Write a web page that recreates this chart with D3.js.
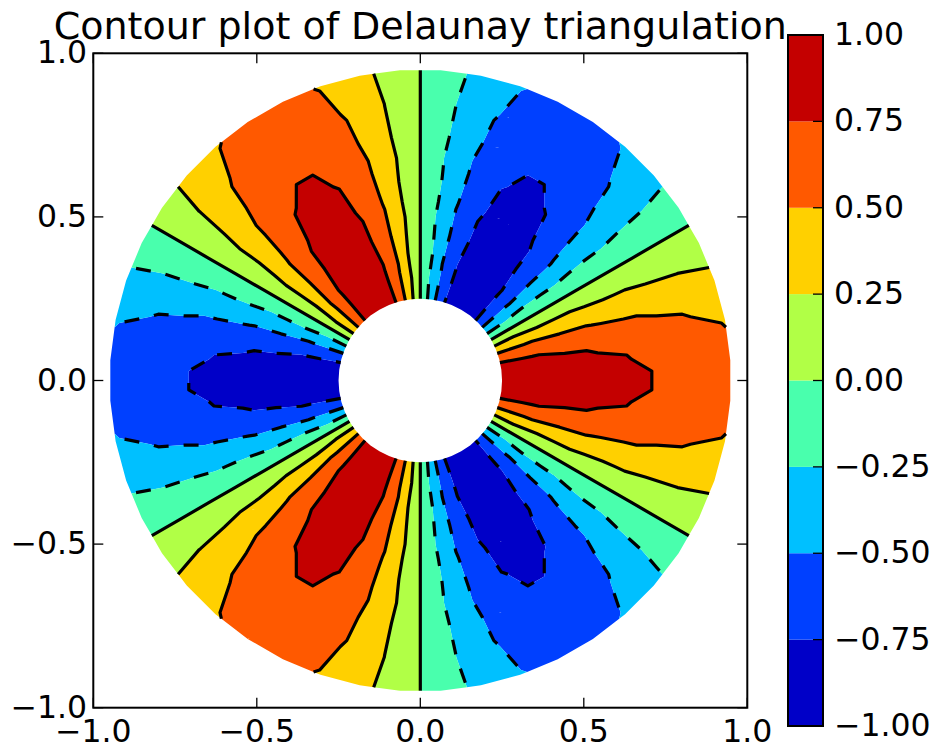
<!DOCTYPE html>
<html>
<head>
<meta charset="utf-8">
<script src="https://cdnjs.cloudflare.com/ajax/libs/d3/7.8.5/d3.min.js"></script>
<style>
  body { margin: 0; background: #fff; }
  text { font-family: "DejaVu Sans", sans-serif; fill: #000; }
</style>
</head>
<body>
<div id="graph"></div>
<script>

// rings of the triangulation grid (radius, angular offset of the ring in degrees)
var radii = [0.25, 0.35, 0.45, 0.55, 0.65, 0.75, 0.85, 0.95];
var ringOffset = [0, 3.75, 0, 3.75, 0, 3.75, 0, 3.75];

// 48 angles per ring, degrees
var anglesDeg = [0, 7.5, 15, 22.5, 30, 37.5, 45, 52.5, 60, 67.5, 75, 82.5,
                 90, 97.5, 105, 112.5, 120, 127.5, 135, 142.5, 150, 157.5, 165, 172.5,
                 180, 187.5, 195, 202.5, 210, 217.5, 225, 232.5, 240, 247.5, 255, 262.5,
                 270, 277.5, 285, 292.5, 300, 307.5, 315, 322.5, 330, 337.5, 345, 352.5];

// z value at every grid point, one row per ring, one column per angle
var zRows = [
  [0.969,0.895,0.685,0.371,0,-0.371,-0.685,-0.895,-0.969,-0.895,-0.685,-0.371,0,0.371,0.685,0.895,
   0.969,0.895,0.685,0.371,0,-0.371,-0.685,-0.895,-0.969,-0.895,-0.685,-0.371,0,0.371,0.685,0.895,
   0.969,0.895,0.685,0.371,0,-0.371,-0.685,-0.895,-0.969,-0.895,-0.685,-0.371,0,0.371,0.685,0.895],
  [0.921,0.781,0.522,0.183,-0.183,-0.522,-0.781,-0.921,-0.921,-0.781,-0.522,-0.183,0.183,0.522,0.781,0.921,
   0.921,0.781,0.522,0.183,-0.183,-0.522,-0.781,-0.921,-0.921,-0.781,-0.522,-0.183,0.183,0.522,0.781,0.921,
   0.921,0.781,0.522,0.183,-0.183,-0.522,-0.781,-0.921,-0.921,-0.781,-0.522,-0.183,0.183,0.522,0.781,0.921],
  [0.900,0.832,0.637,0.345,0,-0.345,-0.637,-0.832,-0.900,-0.832,-0.637,-0.345,0,0.345,0.637,0.832,
   0.900,0.832,0.637,0.345,0,-0.345,-0.637,-0.832,-0.900,-0.832,-0.637,-0.345,0,0.345,0.637,0.832,
   0.900,0.832,0.637,0.345,0,-0.345,-0.637,-0.832,-0.900,-0.832,-0.637,-0.345,0,0.345,0.637,0.832],
  [0.836,0.709,0.474,0.166,-0.166,-0.474,-0.709,-0.836,-0.836,-0.709,-0.474,-0.166,0.166,0.474,0.709,0.836,
   0.836,0.709,0.474,0.166,-0.166,-0.474,-0.709,-0.836,-0.836,-0.709,-0.474,-0.166,0.166,0.474,0.709,0.836,
   0.836,0.709,0.474,0.166,-0.166,-0.474,-0.709,-0.836,-0.836,-0.709,-0.474,-0.166,0.166,0.474,0.709,0.836],
  [0.796,0.736,0.563,0.305,0,-0.305,-0.563,-0.736,-0.796,-0.736,-0.563,-0.305,0,0.305,0.563,0.736,
   0.796,0.736,0.563,0.305,0,-0.305,-0.563,-0.736,-0.796,-0.736,-0.563,-0.305,0,0.305,0.563,0.736,
   0.796,0.736,0.563,0.305,0,-0.305,-0.563,-0.736,-0.796,-0.736,-0.563,-0.305,0,0.305,0.563,0.736],
  [0.718,0.608,0.407,0.143,-0.143,-0.407,-0.608,-0.718,-0.718,-0.608,-0.407,-0.143,0.143,0.407,0.608,0.718,
   0.718,0.608,0.407,0.143,-0.143,-0.407,-0.608,-0.718,-0.718,-0.608,-0.407,-0.143,0.143,0.407,0.608,0.718,
   0.718,0.608,0.407,0.143,-0.143,-0.407,-0.608,-0.718,-0.718,-0.608,-0.407,-0.143,0.143,0.407,0.608,0.718],
  [0.660,0.610,0.467,0.253,0,-0.253,-0.467,-0.610,-0.660,-0.610,-0.467,-0.253,0,0.253,0.467,0.610,
   0.660,0.610,0.467,0.253,0,-0.253,-0.467,-0.610,-0.660,-0.610,-0.467,-0.253,0,0.253,0.467,0.610,
   0.660,0.610,0.467,0.253,0,-0.253,-0.467,-0.610,-0.660,-0.610,-0.467,-0.253,0,0.253,0.467,0.610],
  [0.571,0.484,0.323,0.113,-0.113,-0.323,-0.484,-0.571,-0.571,-0.484,-0.323,-0.113,0.113,0.323,0.484,0.571,
   0.571,0.484,0.323,0.113,-0.113,-0.323,-0.484,-0.571,-0.571,-0.484,-0.323,-0.113,0.113,0.323,0.484,0.571,
   0.571,0.484,0.323,0.113,-0.113,-0.323,-0.484,-0.571,-0.571,-0.484,-0.323,-0.113,0.113,0.323,0.484,0.571]
];

var minRadius = 0.25;

// contour levels and band colours (jet)
var levels = [-1, -0.75, -0.5, -0.25, 0, 0.25, 0.5, 0.75, 1];
var bandColors = ["#0000c8", "#0040ff", "#00c0ff", "#49ffad", "#b1ff46", "#ffd000", "#ff5900", "#c40000"];
var lineLevels = [-0.75, -0.5, -0.25, 0, 0.25, 0.5, 0.75];

var axisTicks = [-1, -0.5, 0, 0.5, 1];
var axisTickLabels = ["\u22121.0", "\u22120.5", "0.0", "0.5", "1.0"];
var cbTickLabels = ["\u22121.00", "\u22120.75", "\u22120.50", "\u22120.25", "0.00", "0.25", "0.50", "0.75", "1.00"];

var titleText = "Contour plot of Delaunay triangulation";

// layout
var W = 937, H = 753;
var ax = { left: 93.3, right: 747.3, top: 53.3, bottom: 707.7 };
var cb = { left: 788, right: 823, top: 35, bottom: 726 };
var fs = 31.5;

var x = d3.scaleLinear().domain([-1, 1]).range([ax.left, ax.right]);
var y = d3.scaleLinear().domain([-1, 1]).range([ax.bottom, ax.top]);
var yc = d3.scaleLinear().domain([-1, 1]).range([cb.bottom, cb.top]);

var svg = d3.select("#graph").append("svg")
    .attr("width", W).attr("height", H);

// build the points
var pts = [];
radii.forEach(function (r, i) {
    anglesDeg.forEach(function (a, j) {
        var t = (a + ringOffset[i]) * Math.PI / 180;
        pts.push({ x: r * Math.cos(t), y: r * Math.sin(t), z: zRows[i][j] });
    });
});

var delaunay = d3.Delaunay.from(pts, function (d) { return d.x; }, function (d) { return d.y; });
var tris = [];
for (var k = 0; k < delaunay.triangles.length; k += 3) {
    var a = delaunay.triangles[k], b = delaunay.triangles[k + 1], c = delaunay.triangles[k + 2];
    var cx = (pts[a].x + pts[b].x + pts[c].x) / 3, cy = (pts[a].y + pts[b].y + pts[c].y) / 3;
    if (Math.hypot(cx, cy) < minRadius) continue;   // mask the hole
    tris.push([a, b, c]);
}

// clip a polygon (with z at vertices) to z >= lev (above) or z <= lev
function clip(poly, lev, above) {
    var out = [];
    for (var i = 0; i < poly.length; i++) {
        var p = poly[i], q = poly[(i + 1) % poly.length];
        var pin = above ? p.z >= lev : p.z <= lev;
        var qin = above ? q.z >= lev : q.z <= lev;
        if (pin) out.push(p);
        if (pin !== qin) {
            var t = (lev - p.z) / (q.z - p.z);
            out.push({ x: p.x + t * (q.x - p.x), y: p.y + t * (q.y - p.y), z: lev });
        }
    }
    return out;
}

// filled bands
var fills = svg.append("g");
bandColors.forEach(function (col, bi) {
    var lo = levels[bi], hi = levels[bi + 1];
    var d = "";
    tris.forEach(function (tr) {
        var poly = tr.map(function (i) { return pts[i]; });
        poly = clip(poly, lo, true);
        if (poly.length < 3) return;
        poly = clip(poly, hi, false);
        if (poly.length < 3) return;
        d += "M" + poly.map(function (p) { return x(p.x) + "," + y(p.y); }).join("L") + "Z";
    });
    fills.append("path").attr("d", d).attr("fill", col).attr("stroke", "none");
});

// contour lines
var line = d3.line().x(function (p) { return x(p.x); }).y(function (p) { return y(p.y); });
var lines = svg.append("g");

lineLevels.forEach(function (lev) {
    var segs = [], seen = {}, ptOf = {};
    tris.forEach(function (tr) {
        var found = [];
        [[tr[0], tr[1]], [tr[1], tr[2]], [tr[2], tr[0]]].forEach(function (e) {
            var u = Math.min(e[0], e[1]), v = Math.max(e[0], e[1]);
            var au = pts[u].z > lev, av = pts[v].z > lev;
            if (au === av) return;
            var t = (lev - pts[u].z) / (pts[v].z - pts[u].z);
            var p = { x: pts[u].x + t * (pts[v].x - pts[u].x), y: pts[u].y + t * (pts[v].y - pts[u].y) };
            var key = p.x.toFixed(7) + "," + p.y.toFixed(7);
            ptOf[key] = p;
            found.push(key);
        });
        if (found.length !== 2 || found[0] === found[1]) return;
        var sk = found[0] < found[1] ? found[0] + "|" + found[1] : found[1] + "|" + found[0];
        if (seen[sk]) return;
        seen[sk] = true;
        segs.push({ k0: found[0], k1: found[1] });
    });

    var adj = new Map();
    segs.forEach(function (s, i) {
        [s.k0, s.k1].forEach(function (k) {
            if (!adj.has(k)) adj.set(k, []);
            adj.get(k).push(i);
        });
    });
    var used = segs.map(function () { return false; });
    function walk(start) {
        var chain = [ptOf[start]], key = start;
        while (true) {
            var next = adj.get(key).find(function (i) { return !used[i]; });
            if (next === undefined) break;
            used[next] = true;
            key = segs[next].k0 === key ? segs[next].k1 : segs[next].k0;
            chain.push(ptOf[key]);
        }
        return chain;
    }
    var chains = [];
    adj.forEach(function (list, key) {
        if (list.length % 2 === 1) {
            while (list.some(function (i) { return !used[i]; })) chains.push(walk(key));
        }
    });
    segs.forEach(function (s, i) { if (!used[i]) chains.push(walk(s.k0)); });

    chains.forEach(function (c) {
        lines.append("path")
            .attr("d", line(c))
            .attr("fill", "none")
            .attr("stroke", "#000")
            .attr("stroke-width", 3.2)
            .attr("stroke-linejoin", "round")
            .attr("stroke-dasharray", lev < 0 ? "15,15" : null);
    });
});

// axes frame and ticks
var frame = svg.append("g");
frame.append("rect")
    .attr("x", ax.left).attr("y", ax.top)
    .attr("width", ax.right - ax.left).attr("height", ax.bottom - ax.top)
    .attr("fill", "none").attr("stroke", "#000").attr("stroke-width", 2);

var tl = 10;
axisTicks.forEach(function (v, i) {
    frame.append("line").attr("x1", x(v)).attr("x2", x(v)).attr("y1", ax.bottom).attr("y2", ax.bottom - tl)
        .attr("stroke", "#000").attr("stroke-width", 1.3);
    frame.append("line").attr("x1", x(v)).attr("x2", x(v)).attr("y1", ax.top).attr("y2", ax.top + tl)
        .attr("stroke", "#000").attr("stroke-width", 1.3);
    frame.append("line").attr("y1", y(v)).attr("y2", y(v)).attr("x1", ax.left).attr("x2", ax.left + tl)
        .attr("stroke", "#000").attr("stroke-width", 1.3);
    frame.append("line").attr("y1", y(v)).attr("y2", y(v)).attr("x1", ax.right).attr("x2", ax.right - tl)
        .attr("stroke", "#000").attr("stroke-width", 1.3);

    frame.append("text").attr("x", x(v)).attr("y", 742)
        .attr("text-anchor", "middle").attr("font-size", fs).text(axisTickLabels[i]);
    frame.append("text").attr("x", 87).attr("y", y(v) + 10)
        .attr("text-anchor", "end").attr("font-size", fs).text(axisTickLabels[i]);
});

// title
svg.append("text").attr("x", (ax.left + ax.right) / 2).attr("y", 39)
    .attr("text-anchor", "middle").attr("font-size", 38).text(titleText);

// colorbar
var cbar = svg.append("g");
bandColors.forEach(function (col, i) {
    cbar.append("rect")
        .attr("x", cb.left).attr("width", cb.right - cb.left)
        .attr("y", yc(levels[i + 1])).attr("height", yc(levels[i]) - yc(levels[i + 1]))
        .attr("fill", col);
});
levels.forEach(function (v, i) {
    cbar.append("line").attr("x1", cb.right).attr("x2", cb.right - tl)
        .attr("y1", yc(v)).attr("y2", yc(v)).attr("stroke", "#000").attr("stroke-width", 1.3);
    cbar.append("text").attr("x", 834).attr("y", yc(v) + 10)
        .attr("font-size", fs).text(cbTickLabels[i]);
});
cbar.append("rect")
    .attr("x", cb.left).attr("y", cb.top)
    .attr("width", cb.right - cb.left).attr("height", cb.bottom - cb.top)
    .attr("fill", "none").attr("stroke", "#000").attr("stroke-width", 2);

</script>
</body>
</html>
